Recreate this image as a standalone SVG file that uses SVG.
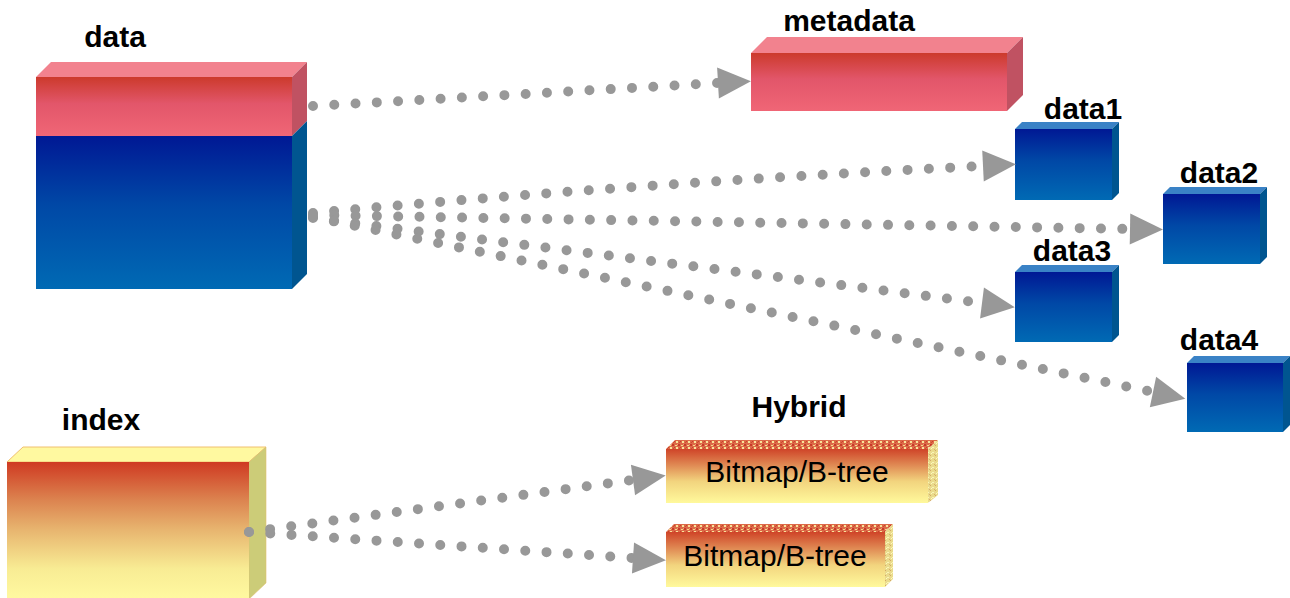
<svg xmlns="http://www.w3.org/2000/svg" width="1290" height="598" viewBox="0 0 1290 598">
  <defs>
    <linearGradient id="gRed" x1="0" y1="0" x2="0" y2="1">
      <stop offset="0" stop-color="#cc3a2c"/>
      <stop offset="0.45" stop-color="#e2566a"/>
      <stop offset="1" stop-color="#f06676"/>
    </linearGradient>
    <linearGradient id="gBlue" x1="0" y1="0" x2="0" y2="1">
      <stop offset="0" stop-color="#001894"/>
      <stop offset="0.45" stop-color="#0048a6"/>
      <stop offset="1" stop-color="#006ab4"/>
    </linearGradient>
    <linearGradient id="gYel" x1="0" y1="0" x2="0" y2="1">
      <stop offset="0" stop-color="#cf3a22"/>
      <stop offset="0.28" stop-color="#dc8450"/>
      <stop offset="0.5" stop-color="#e8b670"/>
      <stop offset="0.78" stop-color="#f8ec94"/>
      <stop offset="1" stop-color="#fff9a0"/>
    </linearGradient>
    <linearGradient id="gBit" x1="0" y1="0" x2="0" y2="1">
      <stop offset="0" stop-color="#cf4428"/>
      <stop offset="0.3" stop-color="#e08a54"/>
      <stop offset="0.6" stop-color="#f2d47e"/>
      <stop offset="1" stop-color="#fff99c"/>
    </linearGradient>
    <pattern id="speckTop" width="6" height="6" patternUnits="userSpaceOnUse">
      <rect width="6" height="6" fill="#dc6a48"/>
      <rect x="0" y="0" width="2" height="2" fill="#c83a28"/>
      <rect x="3" y="1" width="2" height="1" fill="#f6d888"/>
      <rect x="1" y="4" width="1" height="1" fill="#d04a2e"/>
      <rect x="4" y="3" width="2" height="2" fill="#f8e49a"/>
      <rect x="2" y="3" width="1" height="1" fill="#c8402c"/>
      <rect x="5" y="0" width="1" height="1" fill="#e8a070"/>
    </pattern>
    <pattern id="speckSide" width="5" height="5" patternUnits="userSpaceOnUse">
      <rect width="5" height="5" fill="#eadb8c"/>
      <rect x="0" y="0" width="1" height="1" fill="#d4a868"/>
      <rect x="2" y="2" width="2" height="1" fill="#faf4b8"/>
      <rect x="4" y="4" width="1" height="1" fill="#d8b070"/>
      <rect x="1" y="3" width="1" height="1" fill="#fff8c0"/>
    </pattern>
    <marker id="arrow" markerUnits="userSpaceOnUse" markerWidth="34" markerHeight="32" refX="0" refY="15.5" orient="auto" overflow="visible">
      <path d="M0,0 L33,15.5 L0,31 Z" fill="#989898" stroke="none"/>
    </marker>
  </defs>
  <style>
    .lbl { font-family: "Liberation Sans", Arial, sans-serif; font-weight: bold; font-size: 30px; fill: #000; text-anchor: middle; }
    .txt { font-family: "Liberation Sans", Arial, sans-serif; font-size: 30px; fill: #000; text-anchor: middle; }
    .conn { fill: none; stroke: #989898; stroke-width: 10; stroke-linecap: round; stroke-dasharray: 0 21.3; marker-end: url(#arrow); }
    .redTop { fill: #f2828e; }
    .redSide { fill: #c05262; }
    .blueTop { fill: #3a82c6; }
    .blueSide { fill: #005590; }
  </style>
  <rect width="1290" height="598" fill="#ffffff"/>

  <g id="data">
    <polygon class="redTop" points="36,77 51,62 307,62 292,77"/>
    <polygon class="redSide" points="292,77 307,62 307,121 292,136"/>
    <polygon class="blueSide" points="292,136 307,121 307,274 292,289"/>
    <rect x="36" y="77" width="256" height="59" fill="url(#gRed)"/>
    <rect x="36" y="136" width="256" height="153" fill="url(#gBlue)"/>
    <text class="lbl" x="115" y="47">data</text>
  </g>

  <g id="metadata">
    <polygon class="redTop" points="751,53 767,37 1023,37 1007,53"/>
    <polygon class="redSide" points="1007,53 1023,37 1023,95 1007,111"/>
    <rect x="751" y="53" width="256" height="58" fill="url(#gRed)"/>
    <text class="lbl" x="849" y="31">metadata</text>
  </g>

  <g id="data1">
    <polygon class="blueTop" points="1015,129 1022,122 1119,122 1112,129"/>
    <polygon class="blueSide" points="1112,129 1119,122 1119,193 1112,200"/>
    <rect x="1015" y="129" width="97" height="71" fill="url(#gBlue)"/>
    <text class="lbl" x="1083" y="119">data1</text>
  </g>

  <g id="data2">
    <polygon class="blueTop" points="1163,194 1170,187 1267,187 1260,194"/>
    <polygon class="blueSide" points="1260,194 1267,187 1267,257 1260,264"/>
    <rect x="1163" y="194" width="97" height="70" fill="url(#gBlue)"/>
    <text class="lbl" x="1219" y="183">data2</text>
  </g>

  <g id="data3">
    <polygon class="blueTop" points="1015,272 1022,265 1119,265 1112,272"/>
    <polygon class="blueSide" points="1112,272 1119,265 1119,335 1112,342"/>
    <rect x="1015" y="272" width="97" height="70" fill="url(#gBlue)"/>
    <text class="lbl" x="1072" y="261">data3</text>
  </g>

  <g id="data4">
    <polygon class="blueTop" points="1187,363 1194,356 1290,356 1283,363"/>
    <polygon class="blueSide" points="1283,363 1290,356 1290,425 1283,432"/>
    <rect x="1187" y="363" width="96" height="69" fill="url(#gBlue)"/>
    <text class="lbl" x="1219" y="350">data4</text>
  </g>

  <g id="index">
    <polygon points="7,462 23,447 266,447 249,462" fill="#fff9a0" stroke="#f0c070" stroke-width="1"/>
    <polygon points="249,462 266,447 266,583 249,599" fill="#cccc78" stroke="#e0c070" stroke-width="0.6"/>
    <rect x="7" y="462" width="242" height="137" fill="url(#gYel)"/>
    <text class="lbl" x="101" y="430">index</text>
  </g>

  <g id="hybrid-label">
    <text class="lbl" x="799" y="417">Hybrid</text>
  </g>

  <g id="bitmap1">
    <polygon points="666,449 675,440 938,440 928,449" fill="url(#speckTop)"/>
    <polygon points="928,449 938,440 938,495 928,503" fill="url(#speckSide)"/>
    <rect x="666" y="449" width="262" height="54" fill="url(#gBit)"/>
    <text class="txt" x="797" y="482">Bitmap/B-tree</text>
  </g>

  <g id="bitmap2">
    <polygon points="666,532 674,524 893,524 885,532" fill="url(#speckTop)"/>
    <polygon points="885,532 893,524 893,579 885,587" fill="url(#speckSide)"/>
    <rect x="666" y="532" width="219" height="55" fill="url(#gBit)"/>
    <text class="txt" x="775" y="566">Bitmap/B-tree</text>
  </g>

  <g id="connectors">
    <path class="conn" d="M313,106 L718,83"/>
    <path class="conn" d="M313,213 Q640,183 983,166"/>
    <path class="conn" d="M313,215 L1130,229"/>
    <path class="conn" d="M313,218 L982,303"/>
    <path class="conn" d="M313,217 L1153,392"/>
    <path class="conn" d="M249,532 L633,480"/>
    <path class="conn" d="M249,532 L633,558"/>
  </g>
</svg>
